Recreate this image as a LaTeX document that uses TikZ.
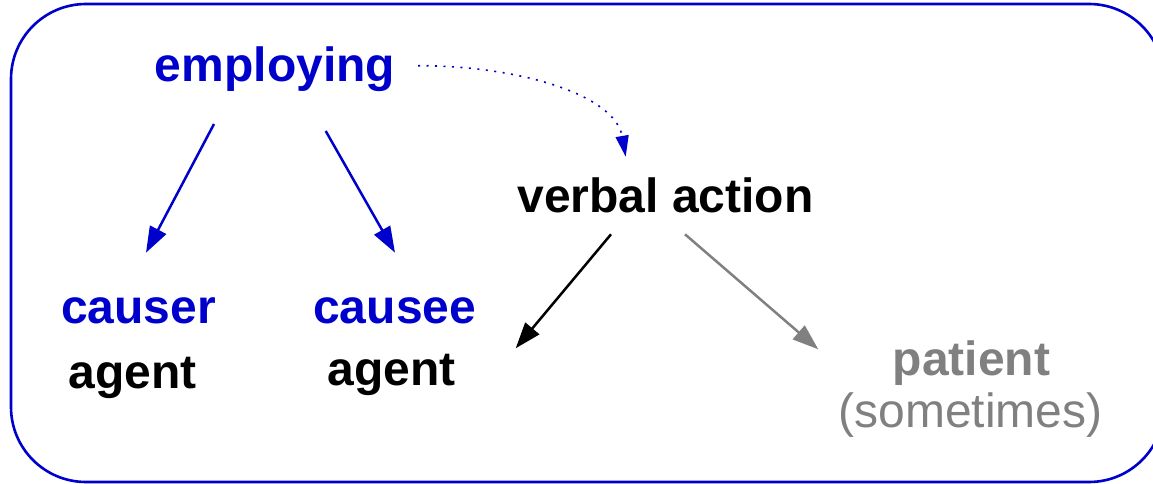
\documentclass[tikz,border=0pt]{standalone}
\usepackage{fontspec}
\setmainfont{Liberation Sans}
\usetikzlibrary{arrows.meta}
\definecolor{deepblue}{RGB}{0,0,204}
\definecolor{softgray}{RGB}{128,128,128}

\begin{document}
\begin{tikzpicture}[x=1pt,y=-1pt,
  lbl/.style={inner sep=0pt, anchor=base, font=\fontsize{48}{57}\selectfont},
  bold/.style={lbl, font=\fontsize{48}{57}\selectfont\bfseries},
  link/.style={line width=2.5pt, -{Triangle[length=26pt,width=18pt]}},
  hint/.style={line width=1.6pt, dash pattern=on 2pt off 6.5pt,
    -{Triangle[length=21pt,width=13pt]}},
]
\useasboundingbox (0,0) rectangle (1153,484);
\clip (0,0) rectangle (1153,484);

% frame
\draw[deepblue, line width=2.6pt, rounded corners=75pt] (11,4) rectangle (1164,482);

% labels
\node[bold, deepblue] (employing) at (275,82) {employing};
\node[bold] (verbal) at (665.5,212) {verbal action};
\node[bold, deepblue] (causer) at (138.5,323) {causer};
\node[bold] (agentA) at (132.7,388) {agent};
\node[bold, deepblue] (causee) at (394.7,323) {causee};
\node[bold] (agentB) at (391.7,385) {agent};
\node[bold, softgray] (patient) at (971.5,375) {patient};
\node[lbl, softgray] (sometimes) at (970.5,427) {(sometimes)};

% connectors
\draw[link, deepblue] ([shift={(-61,42)}]employing.base) -- ([shift={(7.5,-70.3)}]causer.base);
\draw[link, deepblue] ([shift={(50.7,49)}]employing.base) -- ([shift={(0.3,-70.3)}]causee.base);
\draw[link, black] ([shift={(-54.5,22.3)}]verbal.base) -- ([shift={(124,-36.7)}]agentB.base);
\draw[link, softgray] ([shift={(19.5,22.3)}]verbal.base) -- ([shift={(-153.2,-25.7)}]patient.base);
\draw[hint, deepblue] ([shift={(143,-16.3)}]employing.base)
  .. controls +(102,0) and +(-10.7,-61.7) .. ([shift={(-39.8,-55.3)}]verbal.base);
\end{tikzpicture}
\end{document}
